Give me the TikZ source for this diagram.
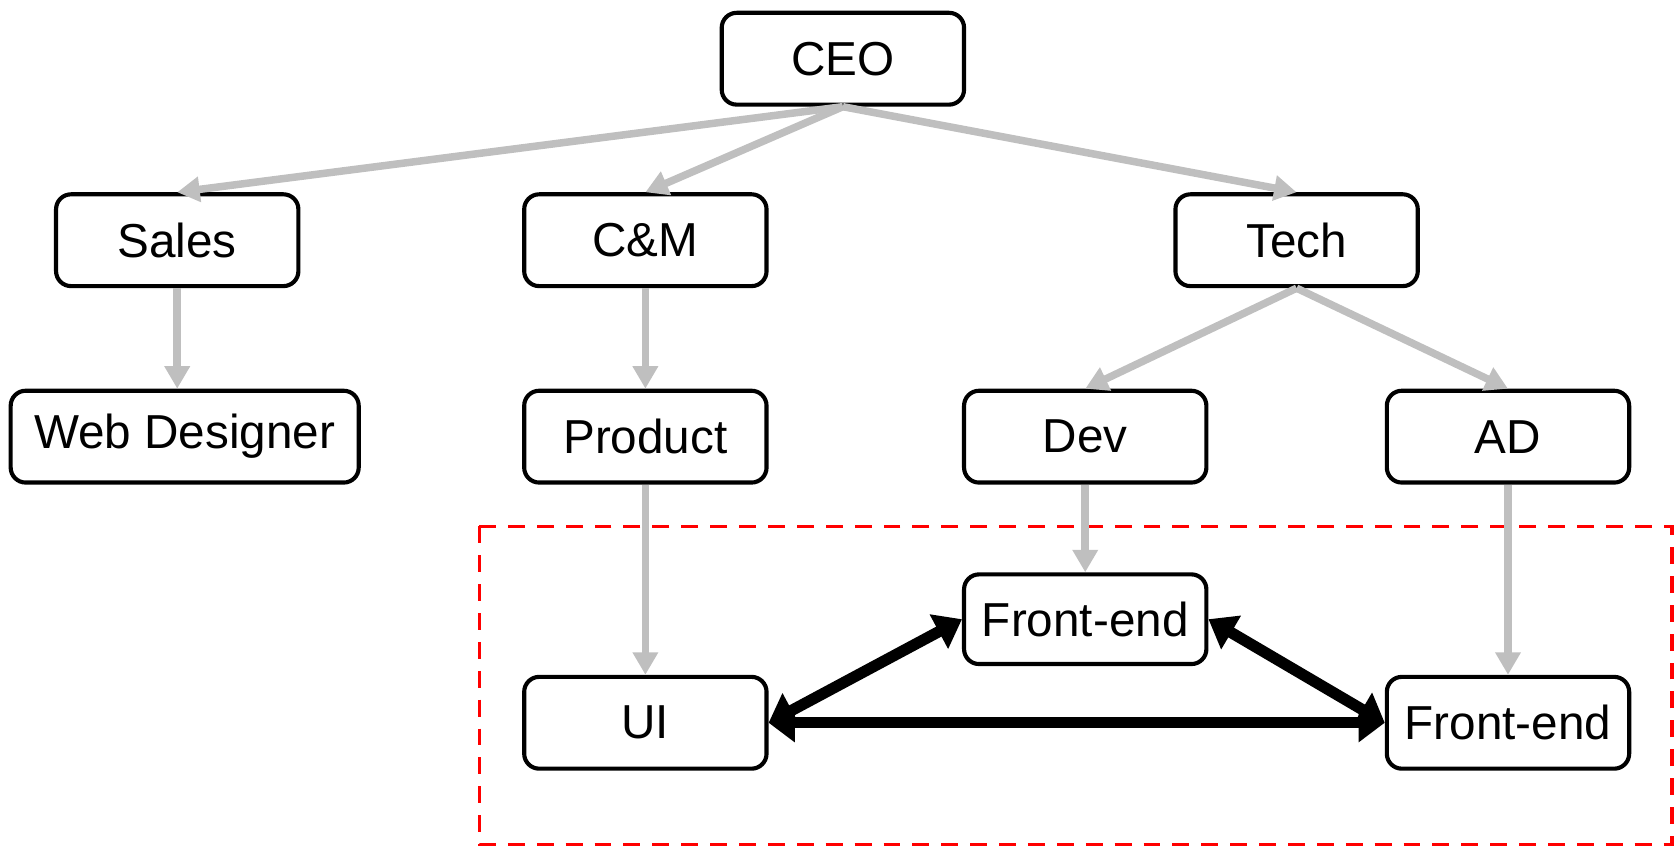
\documentclass[tikz,border=0pt]{standalone}
\usepackage{fontspec}
\setmainfont{Liberation Sans}
\usepackage{tikz}
\usetikzlibrary{positioning}
\usetikzlibrary{arrows.meta}

\definecolor{linkgray}{RGB}{191,191,191}

\tikzset{
	unitbox/.style={draw,
		rounded corners=4pt,
		line width=1.1pt,
		minimum width=2.27cm,
		minimum height=0.86cm,
		inner sep=2pt,
		font=\fontsize{12.7}{15}\selectfont
	},
	reports/.style={linkgray, line width=2pt,
		-{Triangle[length=6pt,width=6.5pt]}
	},
	talks/.style={black, line width=3pt,
		{Triangle[length=7pt,width=10pt]}-{Triangle[length=7pt,width=10pt]}
	},
}

\begin{document}
\begin{tikzpicture}

\useasboundingbox (0, 0) rectangle (15.68, -7.97);

% Team boundary
\draw [red, line width=0.9pt, dash pattern=on 4.5pt off 3.2pt]
	(4.49, -4.93) rectangle (15.66, -7.91);

% CEO
\node [unitbox] (ceo) at (7.895, -0.55) {CEO};

% Sales
\node [unitbox] (sales) at (1.66, -2.25) {Sales};

% C&M
\node [unitbox] (cm) at (6.045, -2.25) {C\&M};

% Tech
\node [unitbox] (tech) at (12.145, -2.25) {Tech};

% Web designer
\node [unitbox,
	minimum width=3.26cm
] (web_designer) at (1.73, -4.09) {Web Designer};

% Product
\node [unitbox] (product) at (6.045, -4.09) {Product};

% Dev
\node [unitbox] (dev) at (10.165, -4.09) {Dev};

% AD
\node [unitbox] (ad) at (14.125, -4.09) {AD};

% Front-end (dev)
\node [unitbox,
	minimum height=0.84cm
] (frontend_dev) at (10.165, -5.80) {Front-end};

% UI
\node [unitbox] (ui) at (6.045, -6.77) {UI};

% Front-end (AD)
\node [unitbox] (frontend_ad) at (14.125, -6.77) {Front-end};


% Reporting lines
\draw [reports] (ceo.south) -- (sales.north);
\draw [reports] (ceo.south) -- (cm.north);
\draw [reports] (ceo.south) -- (tech.north);
\draw [reports] (sales.south) -- (sales.south |- web_designer.north);
\draw [reports] (cm) -- (product);
\draw [reports] (tech.south) -- (dev.north);
\draw [reports] (tech.south) -- (ad.north);
\draw [reports] (dev) -- (frontend_dev);
\draw [reports] (product) -- (ui);
\draw [reports] (ad) -- (frontend_ad);

% Collaboration
\draw [talks] (ui.east) -- (frontend_dev.west);
\draw [talks] (frontend_dev.east) -- (frontend_ad.west);
\draw [talks] (ui.east) -- (frontend_ad.west);

\end{tikzpicture}
\end{document}
